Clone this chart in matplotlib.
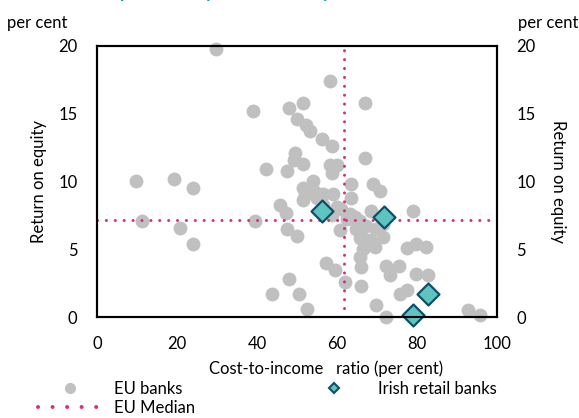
import matplotlib
matplotlib.use("Agg")
import matplotlib.pyplot as plt
from matplotlib.lines import Line2D

plt.rcParams['font.family'] = ['Lato', 'DejaVu Sans']

# EU banks: cost-to-income ratio (per cent) vs return on equity (per cent)
eu_cost = [29.7, 58.3, 67.1, 51.5, 39.0, 47.9, 50.0, 52.2, 53.2, 56.3,
           58.8, 67.1, 49.5, 49.3, 51.6, 58.3, 60.0, 58.8, 42.2, 47.4,
           9.8, 19.3, 24.0, 54.0, 51.6, 56.5, 59.0, 63.5, 63.5, 68.9,
           70.8, 51.6, 45.8, 47.3, 55.1, 56.5, 59.9, 58.7, 79.0, 11.3,
           39.5, 20.8, 24.0, 47.4, 50.0, 60.7, 63.2, 65.7, 64.8, 67.3,
           69.8, 71.5, 65.7, 68.2, 69.4, 66.5, 65.7, 66.1, 72.3, 75.5,
           73.3, 77.5, 79.7, 82.3, 79.7, 82.8, 75.7, 77.5, 57.3, 59.4,
           61.9, 66.1, 47.9, 43.7, 50.5, 52.6, 69.7, 72.3, 92.8, 95.8,
           52.0, 54.5, 61.0, 64.4, 66.0, 71.4, 62.5, 68.5]
eu_roe = [19.8, 17.4, 15.8, 15.8, 15.2, 15.4, 14.6, 14.2, 13.7, 13.1,
          12.6, 11.7, 12.1, 11.6, 11.3, 11.2, 11.2, 10.6, 10.9, 10.8,
          10.0, 10.2, 9.5, 10.0, 9.5, 9.1, 9.1, 9.8, 8.8, 9.8,
          9.3, 8.6, 8.3, 7.7, 8.8, 8.3, 8.1, 7.5, 7.85, 7.1,
          7.1, 6.6, 5.4, 6.5, 6.0, 6.4, 7.6, 7.1, 6.5, 6.7,
          6.5, 5.9, 5.8, 5.7, 5.2, 5.0, 4.45, 3.7, 3.8, 3.8,
          3.1, 5.1, 5.4, 5.2, 3.2, 3.1, 1.7, 2.0, 4.0, 3.5,
          2.6, 2.3, 2.8, 1.7, 1.7, 0.6, 0.9, 0.0, 0.5, 0.15,
          9.0, 9.2, 8.0, 7.4, 6.0, 6.9, 7.2, 7.8]

# Irish retail banks
irl_cost = [56.3, 71.8, 82.7, 79.1]
irl_roe = [7.8, 7.4, 1.7, 0.15]

median_cost = 61.7
median_roe = 7.13

grey = '#c0c0c0'
teal = '#5ec4c0'
teal_edge = '#0d4f6b'
pink = '#d6317f'
fs = 12

fig = plt.figure(figsize=(5.79, 4.18), dpi=100)
ax = fig.add_axes([0.1675, 0.2416, 0.6908, 0.6484])

ax.scatter(eu_cost, eu_roe, s=100, color=grey, linewidths=0, zorder=2, clip_on=False)
dots = (0, (0.01, 2.9))
ax.axvline(median_cost, color=pink, lw=2.2, ls=dots, dash_capstyle='round', zorder=3)
ax.axhline(median_roe, color=pink, lw=2.2, ls=dots, dash_capstyle='round', zorder=3)
ax.scatter(irl_cost, irl_roe, s=125, marker='D', color=teal, edgecolors=teal_edge,
           linewidths=1.6, zorder=4, clip_on=False)

ax.set_xlim(0, 100)
ax.set_ylim(0, 20)
ax.set_xticks([0, 20, 40, 60, 80, 100])
ax.set_yticks([0, 5, 10, 15, 20])
ax.tick_params(length=0, labelsize=fs, pad=14)
for s in ax.spines.values():
    s.set_linewidth(1.5)
ax.set_xlabel('Cost-to-income   ratio (per cent)', fontsize=fs)
ax.xaxis.set_label_coords(0.572, -0.162)
ax.set_ylabel('Return on equity', fontsize=fs, labelpad=8)

ax2 = ax.twinx()
ax2.set_ylim(0, 20)
ax2.set_yticks([0, 5, 10, 15, 20])
ax2.tick_params(length=0, labelsize=fs, pad=14)
ax2.set_ylabel('Return on equity', fontsize=fs, rotation=270, va='bottom', labelpad=10)
for s in ax2.spines.values():
    s.set_linewidth(1.5)

fig.text(0.012, 0.945, 'per cent', fontsize=fs, va='center', ha='left')
fig.text(0.999, 0.945, 'per cent', fontsize=fs, va='center', ha='right')

# title cut off at the top of the image
fig.text(0.01, 1.004, 'Chart 4: Bank profitability and efficiency', fontsize=13,
         fontweight='bold', color='#1a9bb0', va='baseline', ha='left')

handles = [
    Line2D([], [], ls='none', marker='o', ms=7, color=grey, mec=grey),
    Line2D([], [], color=pink, lw=2.9, ls=(0, (0.01, 3.6)), dash_capstyle='round'),
    Line2D([], [], ls='none', marker='D', ms=5, color=teal, mec=teal_edge, mew=1.5),
]
fig.legend(handles, ['EU banks', 'EU Median', 'Irish retail banks'], ncol=2,
           loc='upper left', bbox_to_anchor=(0.066, 0.089), frameon=False,
           fontsize=fs, handlelength=3.8, handletextpad=0.75, columnspacing=6.4,
           labelspacing=0.18, borderpad=0, borderaxespad=0)

fig.savefig('out.png', dpi=100)
